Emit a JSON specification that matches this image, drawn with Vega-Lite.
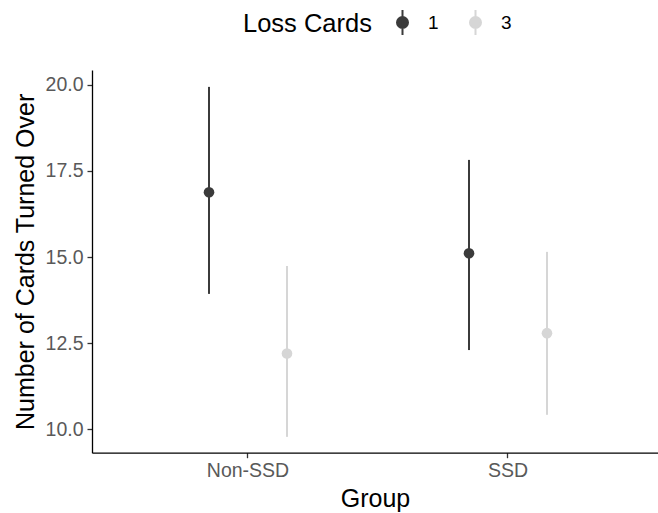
{
  "$schema": "https://vega.github.io/schema/vega-lite/v6.json",
  "width": 566,
  "height": 382.7,
  "autosize": {"type": "none"},
  "padding": {"left": 92, "top": 70, "right": 0, "bottom": 60.3},
  "background": "white",
  "data": {
    "values": [
      {"Group": "Non-SSD", "Loss": "1", "mean": 16.88, "lo": 13.93, "hi": 19.94},
      {"Group": "Non-SSD", "Loss": "3", "mean": 12.20, "lo": 9.78, "hi": 14.74},
      {"Group": "SSD", "Loss": "1", "mean": 15.11, "lo": 12.30, "hi": 17.82},
      {"Group": "SSD", "Loss": "3", "mean": 12.79, "lo": 10.42, "hi": 15.15}
    ]
  },
  "encoding": {
    "x": {
      "field": "Group",
      "type": "nominal",
      "title": "Group",
      "scale": {"type": "band", "domain": ["Non-SSD", "SSD"], "paddingInner": 0, "paddingOuter": 0.0885, "align": 0.565},
      "axis": {"labelAngle": 0, "titlePadding": 6}
    },
    "xOffset": {
      "field": "Loss",
      "type": "nominal",
      "scale": {"type": "band", "domain": ["1", "3"], "paddingInner": 0, "paddingOuter": 0.667}
    },
    "color": {
      "field": "Loss",
      "type": "nominal",
      "title": "Loss Cards",
      "scale": {"domain": ["1", "3"], "range": ["#3b3b3b", "#d6d6d6"]},
      "legend": {
        "orient": "none",
        "legendX": 151,
        "legendY": -61,
        "direction": "horizontal",
        "titleOrient": "left",
        "titleBaseline": "middle",
        "titlePadding": 17,
        "symbolType": "M0,-1L0,1M-0.44,0A0.44,0.44,0,1,0,0.44,0A0.44,0.44,0,1,0,-0.44,0Z",
        "symbolSize": 625,
        "symbolStrokeWidth": 2,
        "labelOffset": 12,
        "columnPadding": 23,
        "encode": {
          "symbols": {
            "update": {
              "stroke": {"scale": "color", "field": "value"},
              "fill": {"scale": "color", "field": "value"},
              "strokeWidth": {"value": 2},
              "opacity": {"value": 1}
            }
          }
        }
      }
    }
  },
  "layer": [
    {
      "mark": {"type": "rule", "strokeWidth": 2},
      "encoding": {
        "y": {
          "field": "lo",
          "type": "quantitative",
          "scale": {"domain": [9.32, 20.43], "nice": false, "zero": false},
          "title": "Number of Cards Turned Over",
          "axis": {"values": [10, 12.5, 15, 17.5, 20], "format": ".1f", "titlePadding": 7}
        },
        "y2": {"field": "hi"}
      }
    },
    {
      "mark": {"type": "point", "filled": true, "size": 113, "opacity": 1},
      "encoding": {
        "y": {"field": "mean", "type": "quantitative"}
      }
    }
  ],
  "config": {
    "view": {"stroke": null},
    "font": "Liberation Sans",
    "axis": {
      "grid": false,
      "domainColor": "#000000",
      "domainWidth": 1.3,
      "tickColor": "#333333",
      "tickWidth": 1.3,
      "tickSize": 5,
      "labelPadding": 4,
      "labelColor": "#595959",
      "labelFontSize": 19.5,
      "labelFont": "Liberation Sans",
      "titleFont": "Liberation Sans",
      "titleFontSize": 25,
      "titleFontWeight": "normal",
      "titleColor": "#000000"
    },
    "legend": {
      "titleFont": "Liberation Sans",
      "titleFontSize": 25.5,
      "titleFontWeight": "normal",
      "titleColor": "#000000",
      "labelFont": "Liberation Sans",
      "labelFontSize": 19,
      "labelColor": "#000000"
    }
  }
}
